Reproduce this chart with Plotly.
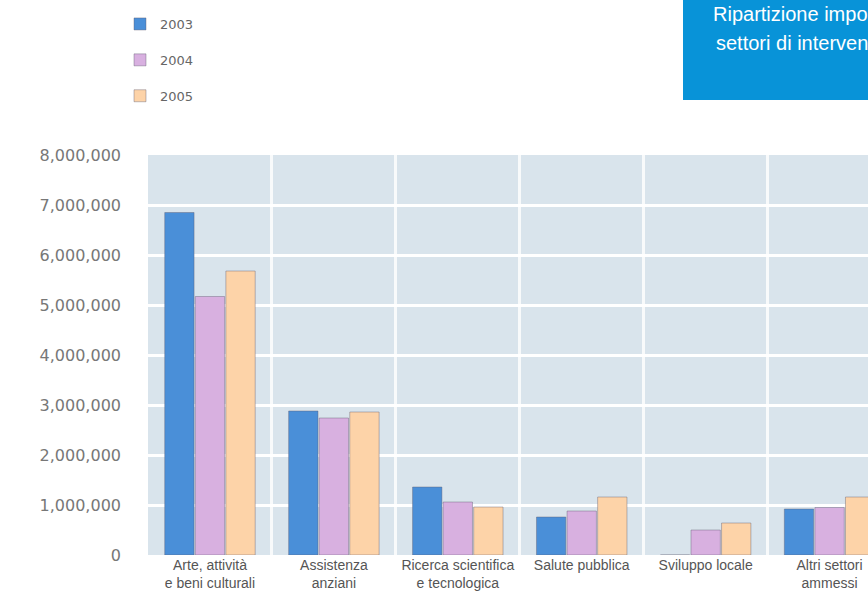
import plotly.graph_objects as go

# Categories (sectors) and yearly amounts in euro
categories = [
    "Arte, attività<br>e beni culturali",
    "Assistenza<br>anziani",
    "Ricerca scientifica<br>e tecnologica",
    "Salute pubblica",
    "Sviluppo locale",
    "Altri settori<br>ammessi",
]
years = ["2003", "2004", "2005"]
values_2003 = [6850000, 2880000, 1360000, 760000, 0, 920000]
values_2004 = [5170000, 2740000, 1060000, 880000, 500000, 950000]
values_2005 = [5680000, 2860000, 960000, 1160000, 640000, 1160000]
colors = ["#4a8fd8", "#d8b0e0", "#fdd3a8"]

series = [values_2003, values_2004, values_2005]

W, H = 868, 597
ML, MT, MB = 148, 155, 42
PW = W - ML
PH = H - MT - MB

fig = go.Figure()
for i, (yr, vals) in enumerate(zip(years, series)):
    fig.add_trace(go.Bar(
        x=categories, y=vals, name=yr,
        marker=dict(color=colors[i], line=dict(color="rgba(95,90,110,0.4)", width=1)),
        legendgroup=yr,
    ))

def px_x(p):
    return (p - ML) / PW

def px_y(p):
    return (H - MB - p) / PH

fig.update_layout(
    width=W, height=H,
    margin=dict(l=ML, r=0, t=MT, b=MB, autoexpand=False),
    paper_bgcolor="white",
    plot_bgcolor="#d9e4ec",
    barmode="group",
    bargap=0.26,
    bargroupgap=0.04,
    font=dict(family="Liberation Sans", color="#555"),
    legend=dict(
        xref="container", yref="container",
        x=120 / W, y=1 - 9 / H, xanchor="left", yanchor="top",
        font=dict(family="DejaVu Sans", size=13, color="#666"),
        traceorder="grouped", tracegroupgap=16,
        bgcolor="rgba(0,0,0,0)",
    ),
    xaxis=dict(
        range=[-0.5, 5.31],
        tickson="boundaries",
        showgrid=True, gridcolor="rgba(255,255,255,0.8)", gridwidth=3,
        ticks="", showline=False, zeroline=False,
        tickangle=0, automargin=False,
        tickfont=dict(family="Liberation Sans", size=14, color="#555"),
        fixedrange=True,
    ),
    yaxis=dict(
        range=[0, 8000000], dtick=1000000, tickformat=",",
        showgrid=True, gridcolor="white", gridwidth=3,
        zeroline=False, ticks="", ticklabelstandoff=26, automargin=False,
        tickfont=dict(family="DejaVu Sans", size=16, color="#777"),
        fixedrange=True,
    ),
)

# Title box in the top-right corner
fig.add_shape(type="rect", xref="paper", yref="paper",
              x0=px_x(683), x1=1.1, y0=px_y(100), y1=px_y(-20),
              fillcolor="#0893d8", line=dict(width=0), layer="above")
fig.add_annotation(xref="paper", yref="paper", x=px_x(711), y=px_y(14),
                   xanchor="left", yanchor="middle", showarrow=False,
                   text="Ripartizione importi per",
                   font=dict(family="Liberation Sans", size=20, color="white"))
fig.add_annotation(xref="paper", yref="paper", x=px_x(714), y=px_y(43),
                   xanchor="left", yanchor="middle", showarrow=False,
                   text="settori di intervento",
                   font=dict(family="Liberation Sans", size=20, color="white"))

fig.write_html("out.html")
